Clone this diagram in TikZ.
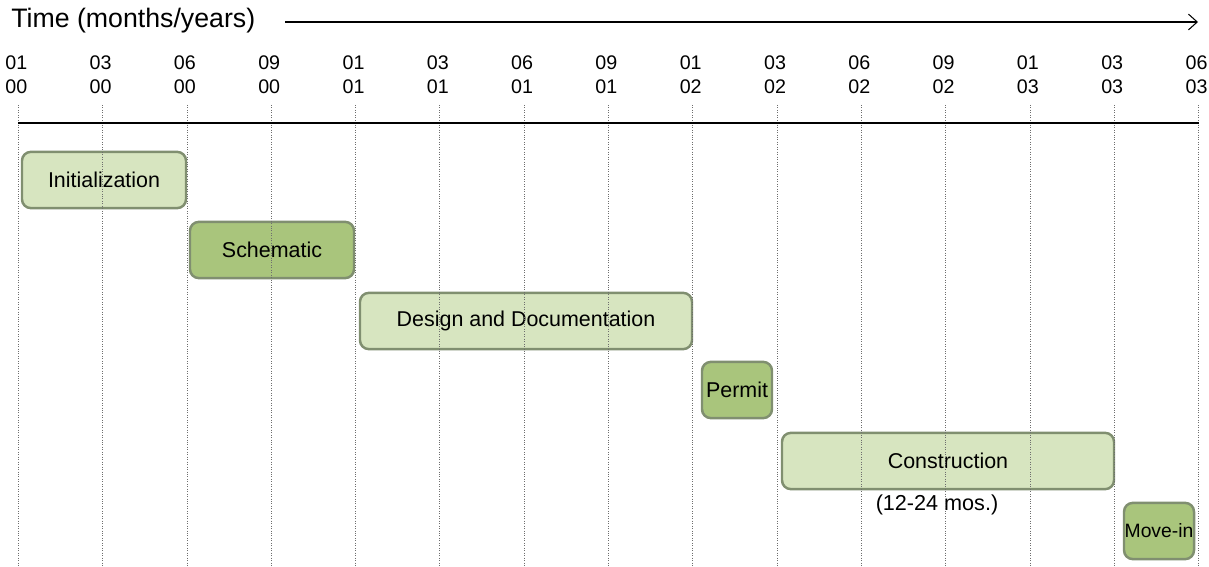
\documentclass[tikz,border=0pt]{standalone}
\usepackage{fontspec}
\setmainfont{Liberation Sans}
\usepackage{xcolor}
\usepackage{tikz}
\usetikzlibrary{arrows.meta}
\definecolor{phaselight}{HTML}{D7E5C0}
\definecolor{phasedark}{HTML}{A9C57C}
\definecolor{phaseedge}{HTML}{808F70}
\definecolor{gridgrey}{HTML}{6E6E6E}

\begin{document}
\begin{tikzpicture}[
    x=0.02cm, y=-0.02cm,
    phase/.style={rounded corners=5pt, draw=phaseedge, line width=1.4pt, minimum height=32pt, inner sep=1pt, font=\fontsize{12.2}{14}\selectfont},
    light/.style={phase, fill=phaselight},
    dark/.style={phase, fill=phasedark},
    tick/.style={font=\fontsize{11.2}{13.5}\selectfont, align=center, inner sep=0pt},
    gridline/.style={gridgrey, densely dotted, line width=0.4pt}
]
\useasboundingbox (0,0) rectangle (1209,567);

% Title and time arrow
\node[anchor=west, inner sep=0pt, font=\fontsize{15.2}{18}\selectfont] (title) at (11,21) {Time (months/years)};
\coordinate (arrowstart) at (285,22);
\coordinate (arrowend) at (1198,22);
\draw[-{Straight Barb[length=5pt,width=9pt]}, line width=0.6pt] (arrowstart) -- (arrowend);

% Phases
\node[light, minimum width=164*0.02cm] (init) at (104,180) {Initialization};
\node[dark, minimum width=164*0.02cm] (schem) at (272,250) {Schematic};
\node[light, minimum width=332*0.02cm] (design) at (526,321) {Design and Documentation};
\node[dark, minimum width=70*0.02cm, inner sep=0pt] (permit) at (737,390) {Permit};
\node[light, minimum width=332*0.02cm] (constr) at (948,461) {Construction};
\node[inner sep=0pt, font=\fontsize{12.3}{14}\selectfont] (duration) at (937,505) {(12-24 mos.)};
\node[dark, minimum width=70*0.02cm, inner sep=0pt, font=\fontsize{11}{13}\selectfont] (movein) at (1159,531) {Move-in};

% Month/year ticks
\foreach \m/\y [count=\i from 0] in {01/00,03/00,06/00,09/00,01/01,03/01,06/01,09/01,01/02,03/02,06/02,09/02,01/03,03/03,06/03} {
    \node[tick] (lab\i) at (18.3+84.3*\i-2, 75) {\m\\\y};
    \coordinate (top\i) at (18.3+84.3*\i, 105);
    \coordinate (bot\i) at (18.3+84.3*\i, 567);
    \draw[gridline] (top\i) -- (bot\i);
}
\draw[line width=0.6pt] (top0 |- 0,123) -- (top14 |- 0,123);
\end{tikzpicture}
\end{document}
